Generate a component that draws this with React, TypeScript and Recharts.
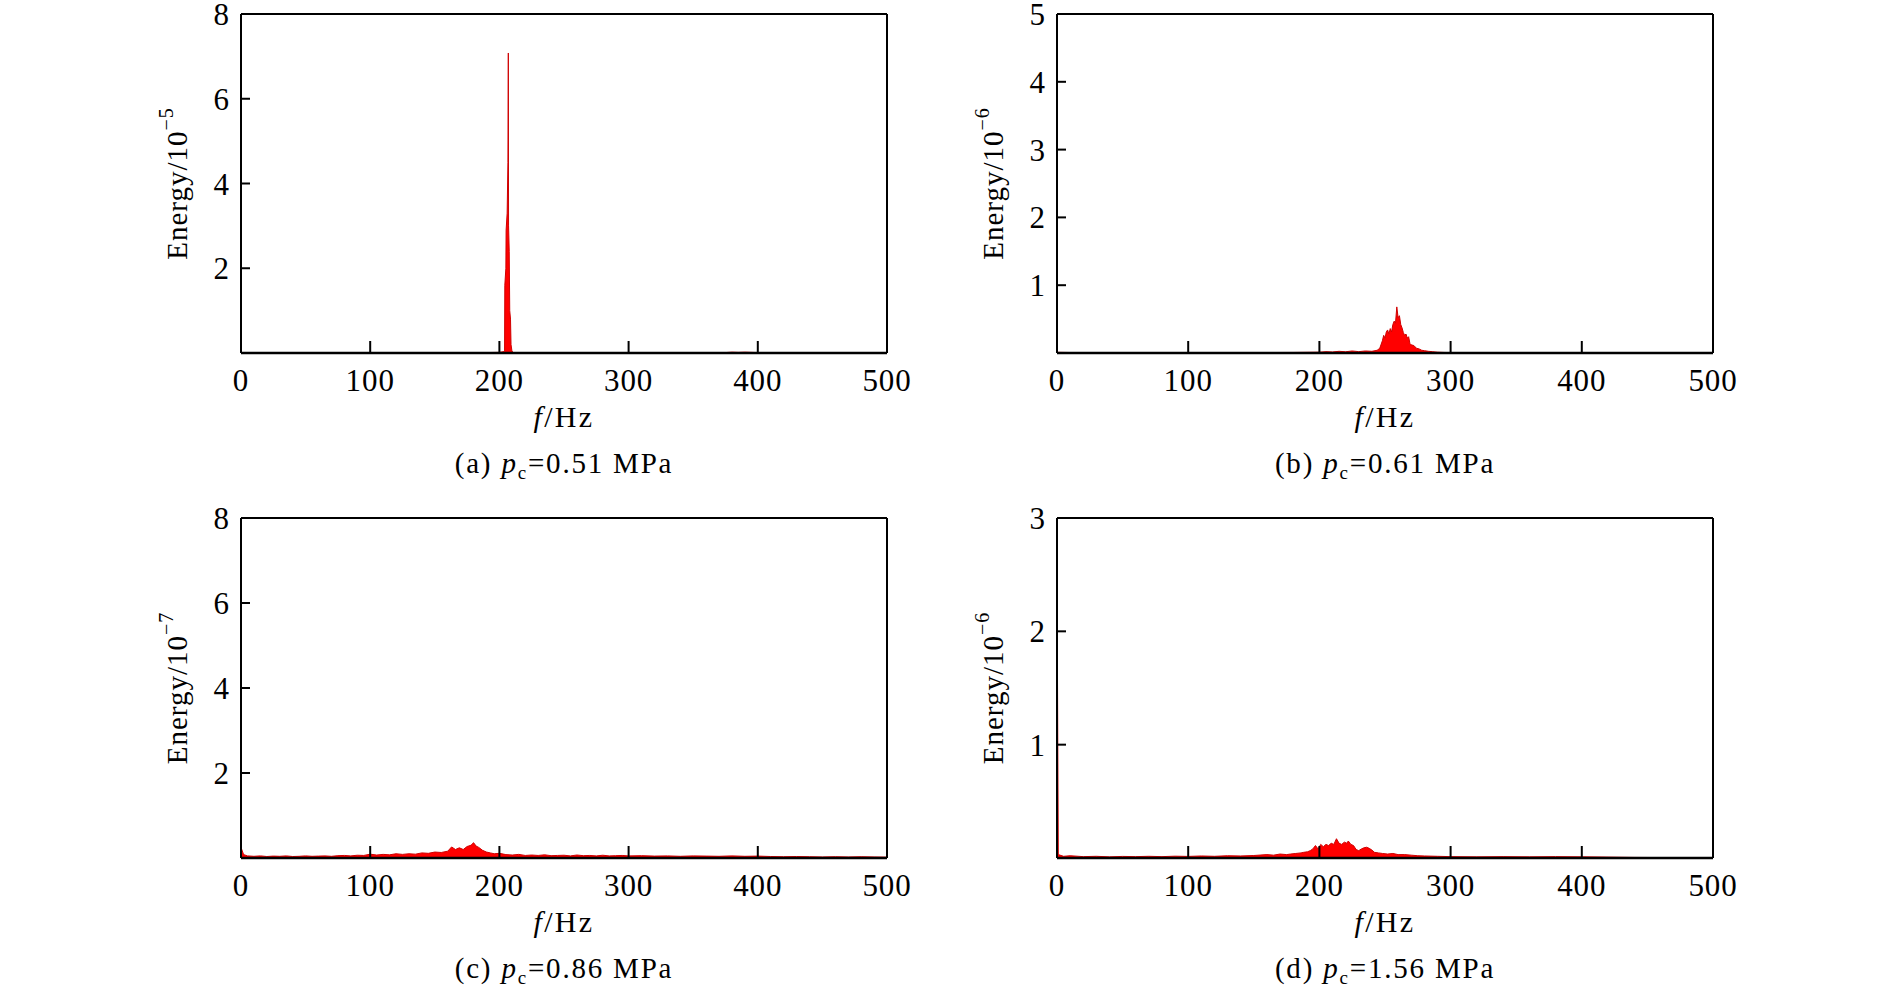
import React from 'react';
import { AreaChart, Area, XAxis, YAxis, ReferenceLine } from 'recharts';

const FONT = "'Liberation Serif', 'Times New Roman', serif";

// ---- data (frequency in Hz, energy in units of the axis exponent) ----
const freqA = [0, 50, 100, 150, 190, 200, 203, 204, 204.2, 205, 205.2, 206, 206.6, 206.9, 207.1, 207.6, 208, 208.6, 209, 209.7, 210.5, 215, 230, 260, 300, 350, 375, 380, 385, 390, 400, 450, 500];
const energyA = [0.01, 0.005, 0.005, 0.005, 0.01, 0.015, 0.03, 0.05, 1.6, 2.0, 2.9, 3.3, 4.5, 7.08, 3.0, 2.4, 1.0, 0.8, 0.2, 0.05, 0.01, 0.01, 0.008, 0.005, 0.005, 0.005, 0.01, 0.02, 0.015, 0.02, 0.01, 0.005, 0.005];

const freqB = [0, 20, 40, 60, 80, 100, 120, 140, 160, 180, 200, 205, 210, 215, 220, 225, 230, 235, 240, 244, 246, 248, 249, 250, 251, 252, 253, 254, 255, 256, 257, 258, 259, 260, 261, 262, 263, 264, 265, 266, 267, 268, 269, 270, 272, 274, 276, 278, 280, 283, 286, 290, 295, 300, 320, 350, 400, 450, 500];
const energyB = [0.01, 0.004, 0.004, 0.005, 0.004, 0.005, 0.005, 0.006, 0.007, 0.008, 0.012, 0.02, 0.015, 0.025, 0.018, 0.03, 0.02, 0.03, 0.025, 0.04, 0.07, 0.18, 0.26, 0.22, 0.31, 0.34, 0.28, 0.36, 0.31, 0.42, 0.47, 0.44, 0.68, 0.52, 0.55, 0.42, 0.37, 0.3, 0.26, 0.28, 0.22, 0.24, 0.14, 0.12, 0.11, 0.07, 0.06, 0.04, 0.035, 0.025, 0.02, 0.012, 0.008, 0.006, 0.004, 0.003, 0.003, 0.002, 0.002];

const freqC = [0, 2, 5, 10, 15, 20, 25, 30, 35, 40, 45, 50, 55, 60, 65, 70, 75, 80, 85, 90, 95, 100, 105, 110, 115, 120, 125, 130, 135, 140, 145, 150, 155, 160, 163, 166, 169, 172, 175, 178, 180, 182, 184, 187, 190, 193, 196, 200, 205, 210, 215, 220, 225, 230, 235, 240, 245, 250, 255, 260, 265, 270, 275, 280, 285, 290, 295, 300, 310, 320, 330, 340, 350, 360, 370, 380, 390, 400, 410, 420, 430, 440, 450, 460, 470, 480, 490, 500];
const energyC = [0.25, 0.08, 0.05, 0.04, 0.05, 0.035, 0.045, 0.04, 0.05, 0.035, 0.04, 0.05, 0.04, 0.045, 0.05, 0.04, 0.055, 0.06, 0.05, 0.065, 0.06, 0.09, 0.07, 0.085, 0.075, 0.1, 0.085, 0.1, 0.09, 0.12, 0.11, 0.14, 0.13, 0.16, 0.26, 0.2, 0.24, 0.2, 0.27, 0.3, 0.36, 0.28, 0.25, 0.18, 0.14, 0.12, 0.1, 0.11, 0.08, 0.07, 0.085, 0.06, 0.07, 0.06, 0.075, 0.055, 0.06, 0.065, 0.05, 0.07, 0.055, 0.06, 0.05, 0.065, 0.05, 0.055, 0.06, 0.05, 0.055, 0.045, 0.05, 0.04, 0.05, 0.045, 0.04, 0.05, 0.04, 0.045, 0.035, 0.03, 0.035, 0.03, 0.025, 0.03, 0.025, 0.03, 0.025, 0.02];

const freqD = [0, 0, 1, 5, 10, 20, 30, 40, 50, 60, 70, 80, 90, 100, 110, 120, 130, 140, 150, 160, 165, 170, 175, 178, 182, 186, 188, 191, 193, 195, 197, 199, 201, 203, 205, 207, 209, 211, 213, 215, 217, 219, 221, 222, 224, 226, 228, 230, 232, 234, 236, 238, 240, 242, 245, 248, 252, 256, 260, 265, 270, 275, 280, 290, 300, 320, 340, 360, 380, 400, 420, 440, 460, 480, 500];
const energyD = [0, 2.56, 0.03, 0.015, 0.02, 0.012, 0.015, 0.01, 0.014, 0.012, 0.015, 0.012, 0.016, 0.014, 0.018, 0.015, 0.02, 0.018, 0.022, 0.03, 0.025, 0.035, 0.03, 0.035, 0.04, 0.045, 0.05, 0.055, 0.065, 0.08, 0.11, 0.08, 0.12, 0.1, 0.12, 0.11, 0.13, 0.12, 0.17, 0.13, 0.12, 0.14, 0.13, 0.15, 0.12, 0.11, 0.075, 0.065, 0.08, 0.09, 0.095, 0.085, 0.07, 0.05, 0.045, 0.04, 0.035, 0.04, 0.03, 0.03, 0.025, 0.02, 0.018, 0.015, 0.012, 0.01, 0.012, 0.01, 0.012, 0.01, 0.008, 0.005, 0.004, 0.003, 0.003];

const xTicks = [0, 100, 200, 300, 400, 500];
const yTicksA = [2, 4, 6, 8];
const yTicksB = [1, 2, 3, 4, 5];
const yTicksC = [2, 4, 6, 8];
const yTicksD = [1, 2, 3];
const exponents = ['\u22125', '\u22126', '\u22127', '\u22126'];
const captionLetters = ['(a)', '(b)', '(c)', '(d)'];
const pressures = ['0.51', '0.61', '0.86', '1.56'];

const toRows = (f: number[], e: number[]) => f.map((x, i) => ({ f: x, e: e[i] }));

const YW = 100;
const MT = 20;
const MR = 50;
const XH = 132;

function YLabel(props: any) {
  const { viewBox, exp } = props;
  const { x, y, width, height } = viewBox;
  const cx = x + width - 64;
  const cy = y + height / 2;
  return (
    <text
      x={cx}
      y={cy}
      transform={`rotate(-90 ${cx} ${cy})`}
      textAnchor="middle"
      dominantBaseline="central"
      fontFamily={FONT}
      fontSize={29}
      letterSpacing={1}
      fill="#000"
    >
      Energy/10<tspan fontSize={20} dy={-11}>{exp}</tspan>
    </text>
  );
}

function XLabel(props: any) {
  const { viewBox, letter, pressure } = props;
  const { x, y, width } = viewBox;
  const cx = x + width / 2;
  return (
    <g>
      <text x={cx} y={y + 74} textAnchor="middle" fontFamily={FONT} fontSize={30} letterSpacing={2.3} fill="#000">
        <tspan fontStyle="italic">f</tspan>/Hz
      </text>
      <text x={cx} y={y + 120} textAnchor="middle" fontFamily={FONT} fontSize={29} letterSpacing={1.8} fill="#000">
        {letter} <tspan fontStyle="italic">p</tspan>
        <tspan fontSize={19} dy={6}>c</tspan>
        <tspan dy={-6}>={pressure} MPa</tspan>
      </text>
    </g>
  );
}

interface PanelProps {
  L: number; T: number; W: number; H: number;
  data: { f: number; e: number }[];
  yMax: number; yTicks: number[]; exp: string; letter: string; pressure: string;
}

function Panel({ L, T, W, H, data, yMax, yTicks, exp, letter, pressure }: PanelProps) {
  const tickStyle = { fill: '#000', fontSize: 31, fontFamily: FONT, letterSpacing: 0.9 };
  return (
    <div style={{ position: 'absolute', left: L - YW, top: T - MT }}>
      <AreaChart
        width={YW + W + MR}
        height={MT + H + XH}
        data={data}
        margin={{ top: MT, right: MR, bottom: 0, left: 0 }}
      >
        <XAxis
          type="number"
          dataKey="f"
          domain={[0, 500]}
          ticks={xTicks}
          interval={0}
          height={XH}
          tickSize={-12}
          tickMargin={28}
          tick={tickStyle}
          tickLine={{ stroke: '#000', strokeWidth: 2 }}
          axisLine={{ stroke: '#000', strokeWidth: 2.5 }}
          label={<XLabel letter={letter} pressure={pressure} />}
        />
        <YAxis
          type="number"
          domain={[0, yMax]}
          ticks={yTicks}
          interval={0}
          allowDataOverflow
          width={YW}
          tickSize={-9}
          tickMargin={20}
          tick={tickStyle}
          tickLine={{ stroke: '#000', strokeWidth: 2 }}
          axisLine={{ stroke: '#000', strokeWidth: 2 }}
          label={<YLabel exp={exp} />}
        />
        <Area
          type="linear"
          dataKey="e"
          stroke="#d00000"
          strokeWidth={1}
          fill="#ff0000"
          fillOpacity={1}
          dot={false}
          activeDot={false}
          isAnimationActive={false}
        />
        <ReferenceLine y={yMax} stroke="#000" strokeWidth={2} ifOverflow="visible" />
        <ReferenceLine x={500} stroke="#000" strokeWidth={2} ifOverflow="visible" />
      </AreaChart>
    </div>
  );
}

export default function App() {
  return (
    <div style={{ position: 'absolute', left: 0, top: 0, width: 1890, height: 991, background: '#fff', fontFamily: FONT }}>
      <Panel L={241} T={14} W={646} H={339} data={toRows(freqA, energyA)} yMax={8} yTicks={yTicksA} exp={exponents[0]} letter={captionLetters[0]} pressure={pressures[0]} />
      <Panel L={1057} T={14} W={656} H={339} data={toRows(freqB, energyB)} yMax={5} yTicks={yTicksB} exp={exponents[1]} letter={captionLetters[1]} pressure={pressures[1]} />
      <Panel L={241} T={518} W={646} H={340} data={toRows(freqC, energyC)} yMax={8} yTicks={yTicksC} exp={exponents[2]} letter={captionLetters[2]} pressure={pressures[2]} />
      <Panel L={1057} T={518} W={656} H={340} data={toRows(freqD, energyD)} yMax={3} yTicks={yTicksD} exp={exponents[3]} letter={captionLetters[3]} pressure={pressures[3]} />
    </div>
  );
}
